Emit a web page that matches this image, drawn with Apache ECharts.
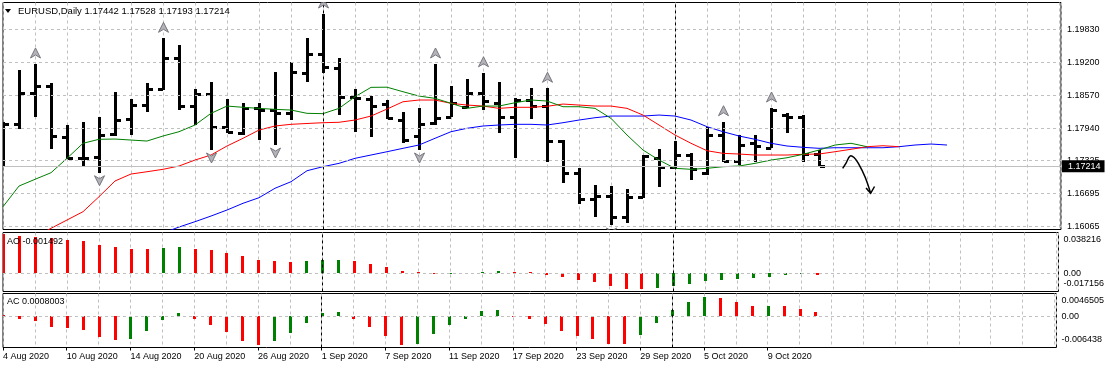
<!DOCTYPE html>
<html><head><meta charset="utf-8">
<script src="https://cdn.jsdelivr.net/npm/echarts@6/dist/echarts.min.js"></script>
<style>html,body{margin:0;padding:0;background:#fff;}#c{width:1107px;height:368px;}</style>
</head><body><div id="c"></div>
<script>
// ---------------- data ----------------
const symbol = 'EURUSD,Daily';
const dates = ['4 Aug 2020','5 Aug 2020','6 Aug 2020','7 Aug 2020','10 Aug 2020','11 Aug 2020','12 Aug 2020','13 Aug 2020','14 Aug 2020','17 Aug 2020','18 Aug 2020','19 Aug 2020','20 Aug 2020','21 Aug 2020','24 Aug 2020','25 Aug 2020','26 Aug 2020','27 Aug 2020','28 Aug 2020','31 Aug 2020','1 Sep 2020','2 Sep 2020','3 Sep 2020','4 Sep 2020','7 Sep 2020','8 Sep 2020','9 Sep 2020','10 Sep 2020','11 Sep 2020','14 Sep 2020','15 Sep 2020','16 Sep 2020','17 Sep 2020','18 Sep 2020','21 Sep 2020','22 Sep 2020','23 Sep 2020','24 Sep 2020','25 Sep 2020','28 Sep 2020','29 Sep 2020','30 Sep 2020','1 Oct 2020','2 Oct 2020','5 Oct 2020','6 Oct 2020','7 Oct 2020','8 Oct 2020','9 Oct 2020','12 Oct 2020','13 Oct 2020','14 Oct 2020'];
const opens  = [1.17610,1.18016,1.18620,1.18753,1.17779,1.17379,1.17398,1.17831,1.18120,1.18385,1.18690,1.19288,1.18366,1.18589,1.17965,1.17845,1.18322,1.18289,1.18226,1.19001,1.19358,1.19085,1.18532,1.18505,1.18398,1.18098,1.17793,1.18036,1.18161,1.18341,1.18608,1.18429,1.18156,1.18480,1.18366,1.17703,1.17081,1.16585,1.16648,1.16252,1.16623,1.17379,1.17207,1.17430,1.17081,1.17812,1.17316,1.17654,1.17570,1.18194,1.18156,1.17442];
const highs  = [1.18066,1.19053,1.19168,1.18810,1.18003,1.18055,1.18150,1.18627,1.18499,1.18799,1.19658,1.19530,1.18685,1.18830,1.18494,1.18417,1.18417,1.19021,1.19212,1.19670,1.20122,1.19276,1.18685,1.18557,1.18480,1.18257,1.18322,1.19168,1.18748,1.18876,1.19001,1.18830,1.18513,1.18704,1.18704,1.17717,1.17176,1.16858,1.16839,1.16776,1.17430,1.17539,1.17698,1.17463,1.17971,1.18066,1.17812,1.17812,1.18328,1.18238,1.18200,1.17528];
const lows   = [1.17195,1.17921,1.18161,1.17539,1.17348,1.17207,1.17092,1.17793,1.17812,1.18251,1.18671,1.18289,1.18003,1.17526,1.17845,1.17812,1.17717,1.17621,1.18098,1.18830,1.19001,1.18194,1.17875,1.17780,1.18120,1.17654,1.17526,1.18003,1.18150,1.18322,1.18289,1.17856,1.17367,1.18118,1.17302,1.16890,1.16489,1.16241,1.16094,1.16126,1.16615,1.16825,1.17157,1.16953,1.17048,1.17302,1.17239,1.17302,1.17564,1.17856,1.17297,1.17193];
const closes = [1.18016,1.18620,1.18753,1.17793,1.17367,1.17375,1.17812,1.18098,1.18385,1.18690,1.19288,1.18366,1.18589,1.17971,1.17875,1.18322,1.18289,1.18232,1.19021,1.19358,1.19116,1.18543,1.18525,1.18366,1.18131,1.17717,1.18016,1.18146,1.18429,1.18608,1.18467,1.18156,1.18471,1.18366,1.17703,1.17081,1.16585,1.16648,1.16252,1.16634,1.17411,1.17207,1.17430,1.17157,1.17812,1.17316,1.17621,1.17608,1.18299,1.18156,1.17440,1.17214];

const fractalUp   = [2,10,20,27,30,34,45,48];
const fractalDown = [6,13,17,26,38];

// Alligator lines (already shifted forward), first index + values
const lipsStart = 0;
const lips = [1.16443,1.16838,1.16966,1.17092,1.17367,1.17654,1.17730,1.17735,1.17716,1.17697,1.17793,1.17875,1.18003,1.18226,1.18365,1.18341,1.18321,1.18302,1.18289,1.18226,1.18220,1.18321,1.18543,1.18722,1.18725,1.18638,1.18556,1.18512,1.18417,1.18321,1.18365,1.18365,1.18428,1.18480,1.18461,1.18352,1.18352,1.18321,1.18130,1.17812,1.17525,1.17334,1.17176,1.17157,1.17176,1.17207,1.17220,1.17271,1.17334,1.17378,1.17443,1.17525,1.17621,1.17654,1.17589];
const teethStart = 2;
const teeth = [1.15864,1.16031,1.16189,1.16348,1.16634,1.16934,1.17067,1.17111,1.17157,1.17220,1.17334,1.17430,1.17602,1.17749,1.17907,1.17984,1.18016,1.18032,1.18047,1.18055,1.18098,1.18174,1.18308,1.18447,1.18480,1.18480,1.18417,1.18384,1.18365,1.18321,1.18341,1.18341,1.18360,1.18403,1.18384,1.18365,1.18365,1.18321,1.18193,1.18003,1.17812,1.17654,1.17512,1.17462,1.17449,1.17430,1.17430,1.17430,1.17443,1.17449,1.17493,1.17539,1.17589,1.17607,1.17589];
const jawStart = 10;
const jaw = [1.15941,1.16055,1.16157,1.16265,1.16380,1.16508,1.16615,1.16795,1.16920,1.17130,1.17207,1.17271,1.17367,1.17430,1.17493,1.17558,1.17621,1.17749,1.17875,1.17940,1.17984,1.18003,1.18016,1.18016,1.18003,1.18047,1.18098,1.18142,1.18174,1.18174,1.18174,1.18193,1.18174,1.18098,1.17971,1.17875,1.17793,1.17730,1.17654,1.17602,1.17577,1.17558,1.17569,1.17569,1.17569,1.17569,1.17589,1.17621,1.17640,1.17621];

const ao = [0.03651,0.03538,0.03444,0.03294,0.03135,0.03041,0.02665,0.02506,0.02290,0.02262,0.02412,0.02506,0.02290,0.02196,0.01943,0.01661,0.01258,0.01164,0.01098,0.01164,0.01229,0.01258,0.01164,0.00882,0.00629,0.00225,0.00084,-0.00019,0.00000,0.00047,0.00131,0.00225,0.00131,0.00103,-0.00150,-0.00338,-0.00619,-0.00807,-0.01183,-0.01464,-0.01492,-0.01342,-0.01183,-0.00967,-0.00713,-0.00619,-0.00526,-0.00404,-0.00338,-0.00175,-0.00120,-0.001492];
const ac = [0.00025,-0.00057,-0.00099,-0.00222,-0.00242,-0.00283,-0.00421,-0.00482,-0.00462,-0.00298,-0.00078,0.00066,-0.00057,-0.00181,-0.00324,-0.00509,-0.00591,-0.00509,-0.00345,-0.00140,0.00060,0.00086,-0.00057,-0.00222,-0.00406,-0.00591,-0.00571,-0.00365,-0.00181,-0.00057,0.00113,0.00127,0.00008,-0.00057,-0.00160,-0.00304,-0.00406,-0.00468,-0.00571,-0.00577,-0.00386,-0.00133,0.00127,0.00292,0.00394,0.00374,0.00292,0.00209,0.00216,0.00205,0.00148,0.0008003];

const priceRange = [1.16008, 1.20342];
const priceTicks = [1.16065,1.16695,1.17325,1.17940,1.18570,1.19200,1.19830];
const aoRange = [-0.017156, 0.038216];
const aoTickLabels = ['-0.017156','0.00','0.038216'];
const acRange = [-0.006438, 0.0046505];
const acTickLabels = ['-0.006438','0.00','0.0046505'];
const separators = [20, 42];          // first bar of Sep and Oct
const dateLabelIdx = [0,4,8,12,16,20,24,28,32,36,40,44,48];
// hand-drawn annotation (bar index, price)
const annoCurve = [[52.48,1.17176],[52.69,1.17277],[52.94,1.17411],[53.19,1.17382],[53.46,1.17271],[53.88,1.17010],[54.23,1.16699]];
const annoHead  = [[53.94,1.16800],[54.23,1.16699],[54.47,1.16829]];

// ---------------- layout ----------------
const FONT = 'Liberation Sans';
const LEFT = 3, WIDTH = 1058, XMAX = WIDTH / 16;
const panels = [
  {top: 2.5, height: 227},
  {top: 232.5, height: 59},
  {top: 293.5, height: 54}
];
const GRID_COLOR = '#c0c0c0';
const dash = [3, 3];

const chart = echarts.init(document.getElementById('c'), null, {renderer: 'canvas'});

function renderBar(params, api) {
  const i = api.value(0);
  const pO = api.coord([i, api.value(1)]), pH = api.coord([i, api.value(2)]);
  const pL = api.coord([i, api.value(3)]), pC = api.coord([i, api.value(4)]);
  const x = Math.round(pH[0]);
  const yH = Math.round(pH[1]), yL = Math.round(pL[1]), yO = Math.round(pO[1]), yC = Math.round(pC[1]);
  const st = {fill: '#000'};
  return {type: 'group', children: [
    {type: 'rect', shape: {x: x - 1, y: yH, width: 3, height: Math.max(1, yL - yH)}, style: st},
    {type: 'rect', shape: {x: x - 5, y: yO - 1, width: 5, height: 3}, style: st},
    {type: 'rect', shape: {x: x + 1, y: yC - 1, width: 5, height: 3}, style: st}
  ]};
}
function renderFractal(params, api) {
  const i = api.value(0), dir = api.value(2);
  const p = api.coord([i, api.value(1)]);
  const cx = Math.round(p[0]) + 0.5;
  const cy = p[1] - (dir > 0 ? 11 : -8);
  const s = dir > 0 ? 1 : -1;
  const pts = [[cx, cy - 5 * s], [cx + 5, cy + 5 * s], [cx, cy + 2 * s], [cx - 5, cy + 5 * s]];
  return {type: 'polygon', shape: {points: pts}, style: {fill: '#b4b4b8', stroke: '#75757f', lineWidth: 1}};
}
function renderHist(params, api) {
  const i = api.value(0), v = api.value(1), up = api.value(2);
  const p0 = api.coord([i, 0]), p1 = api.coord([i, v]);
  const x = Math.round(p0[0]);
  const y0 = Math.round(p0[1]), y1 = Math.round(p1[1]);
  const top = Math.min(y0, y1), h = Math.max(1, Math.abs(y1 - y0));
  return {type: 'rect', shape: {x: x - 1, y: top, width: 3, height: h}, style: {fill: up ? '#008000' : '#ff0000'}};
}
const histData = arr => arr.map((v, i) => [i, v, i > 0 && v > arr[i - 1] ? 1 : 0]);
const lineData = (start, arr) => arr.map((v, k) => [start + k, v]);

// label anchors a few pixels inside the panel for the min/max labels of the oscillators
function anchors(range, height) {
  const span = range[1] - range[0];
  return [range[0] + span * 8 / height, 0, range[1] - span * 7.5 / height];
}
const aoAnch = anchors(aoRange, panels[1].height);
const acAnch = anchors(acRange, panels[2].height);
function anchorFormatter(anch, labels) {
  return v => {
    let best = 0, d = Infinity;
    anch.forEach((a, k) => { const dd = Math.abs(a - v); if (dd < d) { d = dd; best = k; } });
    return labels[best];
  };
}

const axisLabelStyle = {fontSize: 9, fontFamily: FONT, color: '#000'};
const xAxes = panels.map((p, g) => ({
  type: 'value', gridIndex: g, min: 0, max: XMAX, interval: 2,
  axisLine: {show: false}, axisTick: {show: false}, axisLabel: {show: false},
  splitLine: {show: true, lineStyle: {color: GRID_COLOR, type: dash, width: 1}}
}));
xAxes.push({
  type: 'value', gridIndex: 2, min: 0, max: XMAX, position: 'bottom',
  axisLine: {show: false}, splitLine: {show: false},
  axisTick: {show: true, customValues: dateLabelIdx, length: 3, lineStyle: {color: '#000'}},
  axisLabel: Object.assign({show: true, customValues: dateLabelIdx, formatter: v => dates[Math.round(v)] || '', align: 'left', margin: 5}, axisLabelStyle)
});

const yAxes = [
  {type: 'value', gridIndex: 0, position: 'right', min: priceRange[0], max: priceRange[1],
   axisLine: {show: false}, splitLine: {show: false},
   axisTick: {show: true, customValues: priceTicks, length: 3, lineStyle: {color: '#000'}},
   axisLabel: Object.assign({customValues: priceTicks, formatter: v => v.toFixed(5), margin: 6}, axisLabelStyle)},
  {type: 'value', gridIndex: 1, position: 'right', min: aoRange[0], max: aoRange[1],
   axisLine: {show: false}, splitLine: {show: false},
   axisTick: {show: true, customValues: [aoRange[0], 0, aoRange[1]], length: 3, lineStyle: {color: '#000'}},
   axisLabel: Object.assign({customValues: aoAnch, formatter: anchorFormatter(aoAnch, aoTickLabels), margin: 5}, axisLabelStyle)},
  {type: 'value', gridIndex: 2, position: 'right', min: acRange[0], max: acRange[1],
   axisLine: {show: false}, splitLine: {show: false},
   axisTick: {show: true, customValues: [acRange[0], 0, acRange[1]], length: 3, lineStyle: {color: '#000'}},
   axisLabel: Object.assign({customValues: acAnch, formatter: anchorFormatter(acAnch, acTickLabels), margin: 5}, axisLabelStyle)}
];

function gridHelper(g, hValues) {
  return {
    type: 'line', xAxisIndex: g, yAxisIndex: g, data: [], z: 1, silent: true, clip: false,
    markLine: {
      symbol: ['none', 'none'], silent: true, animation: false, precision: 10, label: {show: false},
      lineStyle: {color: GRID_COLOR, type: dash, width: 1},
      data: hValues.map(v => ({yAxis: v}))
        .concat(separators.map(s => ({xAxis: s, lineStyle: {color: '#000', type: dash, width: 1}})))
    }
  };
}

const last = closes.length - 1;
const fmt5 = v => v.toFixed(5);
const titleStyle = {fontSize: 9, fontWeight: 'normal', fontFamily: FONT, color: '#000', lineHeight: 12};
const mainTitleStyle = Object.assign({}, titleStyle, {fontSize: 9.5});
const option = {
  animation: false,
  backgroundColor: '#fff',
  grid: panels.map(p => ({left: LEFT, width: WIDTH, top: p.top, height: p.height, show: true, borderColor: '#000', borderWidth: 1, backgroundColor: '#fff'})),
  title: [
    {text: symbol + ' ' + [opens[last], highs[last], lows[last], closes[last]].map(fmt5).join(' '), left: 18, top: 5, padding: 0, textStyle: mainTitleStyle},
    {text: 'AO ' + ao[last].toFixed(6), left: 7, top: 236, padding: 0, textStyle: titleStyle},
    {text: 'AC ' + ac[last].toFixed(7), left: 7, top: 296, padding: 0, textStyle: titleStyle}
  ],
  xAxis: xAxes,
  yAxis: yAxes,
  series: [
    gridHelper(0, priceTicks),
    gridHelper(1, [0]),
    gridHelper(2, [0]),
    {type: 'line', xAxisIndex: 0, yAxisIndex: 0, data: [], z: 2, silent: true, clip: false,
     markLine: {symbol: ['none', 'none'], silent: true, animation: false, precision: 10,
       lineStyle: {color: '#c0c0c0', type: 'solid', width: 1},
       label: {show: true, position: 'end', distance: 1, formatter: fmt5(closes[last]), backgroundColor: '#000', color: '#fff',
               fontSize: 9, fontFamily: FONT, padding: [2, 4, 1, 6]},
       data: [{yAxis: closes[last]}]}},
    {type: 'custom', name: 'bars', xAxisIndex: 0, yAxisIndex: 0, z: 3, clip: true,
     data: dates.map((d, i) => [i, opens[i], highs[i], lows[i], closes[i]]),
     encode: {x: 0, y: [1, 2, 3, 4]}, renderItem: renderBar},
    {type: 'line', name: 'jaw', xAxisIndex: 0, yAxisIndex: 0, z: 4, clip: true, symbol: 'none',
     data: lineData(jawStart, jaw), lineStyle: {color: '#0000ff', width: 1}},
    {type: 'line', name: 'teeth', xAxisIndex: 0, yAxisIndex: 0, z: 4, clip: true, symbol: 'none',
     data: lineData(teethStart, teeth), lineStyle: {color: '#ff0000', width: 1}},
    {type: 'line', name: 'lips', xAxisIndex: 0, yAxisIndex: 0, z: 4, clip: true, symbol: 'none',
     data: lineData(lipsStart, lips), lineStyle: {color: '#008000', width: 1}},
    {type: 'custom', name: 'fractals', xAxisIndex: 0, yAxisIndex: 0, z: 5, clip: true,
     data: fractalUp.map(i => [i, highs[i], 1]).concat(fractalDown.map(i => [i, lows[i], -1])),
     encode: {x: 0, y: 1}, renderItem: renderFractal},
    {type: 'custom', name: 'AO', xAxisIndex: 1, yAxisIndex: 1, z: 3, clip: true,
     data: histData(ao), encode: {x: 0, y: 1}, renderItem: renderHist},
    {type: 'custom', name: 'AC', xAxisIndex: 2, yAxisIndex: 2, z: 3, clip: true,
     data: histData(ac), encode: {x: 0, y: 1}, renderItem: renderHist}
  ]
};
chart.setOption(option);

// title marker triangle and hand-drawn arrow annotation
const toPx = pt => chart.convertToPixel({xAxisIndex: 0, yAxisIndex: 0}, pt);
chart.setOption({
  graphic: [
    {type: 'polygon', shape: {points: [[5, 9], [11, 9], [8, 13]]}, style: {fill: '#000'}, z: 10},
    {type: 'polyline', shape: {points: annoCurve.map(toPx), smooth: 0.35}, style: {stroke: '#000', lineWidth: 1.5, fill: null}, z: 10},
    {type: 'polyline', shape: {points: annoHead.map(toPx)}, style: {stroke: '#000', lineWidth: 1.5, fill: null}, z: 10}
  ]
});
</script></body></html>
